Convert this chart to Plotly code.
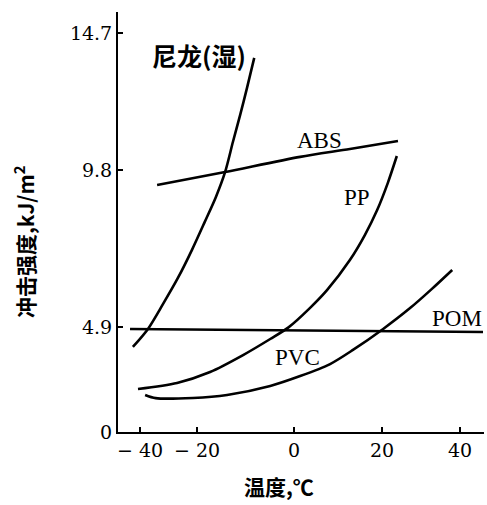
import numpy as np
import plotly.graph_objects as go

# Impact strength (kJ/m^2) of several plastics versus temperature (deg C)
nylon_t = [-42.5, -37.2, -31.9, -26.7, -21.8, -18.4, -16.1, -14.2, -12.6, -11.1, -9.7, -8.2]
nylon_v = [3.97, 4.81, 5.62, 6.43, 7.30, 8.18, 8.96, 9.74, 10.80, 11.77, 12.73, 13.81]

abs_t = [-34.0, -14.2, 1.4, 12.7, 24.1]
abs_v = [9.33, 9.74, 10.27, 10.55, 10.84]

pp_t = [-40.7, -27.0, -17.3, -10.5, -4.9, -1.2, 3.6, 7.5, 12.7, 16.1, 18.9, 21.5, 23.8]
pp_v = [2.01, 2.29, 2.80, 3.59, 4.34, 4.87, 5.49, 6.05, 6.99, 7.77, 8.55, 9.40, 10.30]

pvc_t = [-38.2, -34.5, -21.4, -13.8, -4.9, 1.4, 8.2, 13.4, 20.3, 27.2, 32.8, 38.0]
pvc_v = [1.73, 1.58, 1.59, 1.73, 2.15, 2.61, 3.17, 3.83, 4.81, 5.49, 6.09, 6.68]

pom_t = [-43.5, 45.9]
pom_v = [4.81, 4.67]

# Tick labels of the two axes
temp_ticks = [-40, -20, 0, 20, 40]
temp_tick_text = ["\u2212 40", "\u2212 20", "0", "20", "40"]
strength_ticks = [0, 4.9, 9.8, 14.7]
strength_tick_text = ["0", "4.9", "9.8", "14.7"]

# Curve names and where each name is written (temperature, strength)
curve_names = ["尼龙(湿)", "ABS", "PP", "PVC", "POM"]
name_t = [-19.6, 5.9, 14.3, 0.9, 39.2]
name_v = [13.91, 10.87, 8.93, 3.50, 5.17]

# The printed scales are not evenly spaced: distance of each tick along its axis
temp_tick_pos = [22, 79, 176, 264, 342]
strength_tick_pos = [0, 105, 262, 399]


def scale(values, ticks, pos):
    """Piecewise-linear axis scale with linear extension past the end ticks."""
    values = np.asarray(values, dtype=float)
    out = np.interp(values, ticks, pos)
    lo = values < ticks[0]
    hi = values > ticks[-1]
    s0 = (pos[1] - pos[0]) / (ticks[1] - ticks[0])
    s1 = (pos[-1] - pos[-2]) / (ticks[-1] - ticks[-2])
    out[lo] = pos[0] + (values[lo] - ticks[0]) * s0
    out[hi] = pos[-1] + (values[hi] - ticks[-1]) * s1
    return out


def sx(t):
    return scale(t, temp_ticks, temp_tick_pos)


def sy(v):
    return scale(v, strength_ticks, strength_tick_pos)


fig = go.Figure()
line_style = dict(color="black", width=2.6, shape="spline", smoothing=0.8)
for t, v in [(nylon_t, nylon_v), (abs_t, abs_v), (pp_t, pp_v), (pvc_t, pvc_v), (pom_t, pom_v)]:
    fig.add_trace(go.Scatter(x=sx(t), y=sy(v), mode="lines", line=line_style,
                             hoverinfo="skip", showlegend=False))

serif = "Liberation Serif, Times New Roman, serif"
tick_serif = "DejaVu Serif, serif"
cjk = "Noto Sans CJK SC, sans-serif"

for name, t, v in zip(curve_names, sx(name_t), sy(name_v)):
    if name.isascii():
        font = dict(family=serif, size=23, color="black")
    else:
        font = dict(family=cjk, size=25, color="black", weight="bold")
    fig.add_annotation(x=t, y=v, text=name, showarrow=False, font=font,
                       xanchor="center", yanchor="middle")

axis_style = dict(showline=True, linecolor="black", linewidth=2, showgrid=False,
                  zeroline=False, ticks="inside", ticklen=5, tickwidth=1.5,
                  tickcolor="black", tickfont=dict(family=tick_serif, size=19, color="black"))
fig.update_xaxes(range=[0, 366], tickvals=sx(temp_ticks), ticktext=temp_tick_text, **axis_style)
fig.update_yaxes(range=[0, 420], tickvals=sy(strength_ticks), ticktext=strength_tick_text, **axis_style)

fig.add_annotation(text="冲击强度,kJ/m<sup>2</sup>", xref="paper", yref="paper",
                   x=-0.257, y=0.452, xanchor="center", yanchor="middle",
                   textangle=-90, showarrow=False,
                   font=dict(family=cjk, size=21, color="black", weight="bold"))
fig.add_annotation(text="温度,℃", xref="paper", yref="paper",
                   x=0.44, y=-0.129, xanchor="center", yanchor="middle", showarrow=False,
                   font=dict(family=cjk, size=21, color="black", weight="bold"))

fig.update_layout(width=487, height=505,
                  margin=dict(l=118, r=3, t=12, b=73),
                  paper_bgcolor="white", plot_bgcolor="white")

fig.write_html("out.html")
